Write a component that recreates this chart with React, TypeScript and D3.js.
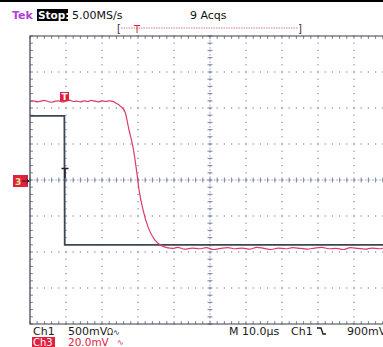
import React from "react";
import * as d3 from "d3";

// time in microseconds (10 µs / div), amplitude in divisions
const ch1Time = [0, 9.55, 9.6, 9.65, 100];
const ch1Value = [1.78, 1.78, 0.0, -1.8, -1.8];

const ch3Time = [0, 1, 2, 3, 4, 5, 6, 7, 8, 9, 10, 11, 12, 13, 14, 15, 16, 17, 18, 19, 20, 21, 22, 22.8, 23.8, 25.0, 26.4, 27.5, 28.6, 29.7, 30.3, 31.4, 32.8, 34.7, 36.7, 38, 39.7, 41, 43, 45, 47, 49, 51, 53, 55, 57, 59, 61, 63, 65, 67, 69, 71, 73, 75, 77, 79, 81, 83, 85, 87, 89, 91, 93, 95, 97, 99, 100];
const ch3Value = [2.18, 2.2, 2.17, 2.19, 2.21, 2.18, 2.16, 2.19, 2.2, 2.17, 2.19, 2.22, 2.18, 2.19, 2.17, 2.2, 2.18, 2.21, 2.19, 2.17, 2.2, 2.18, 2.2, 2.19, 2.14, 2.06, 1.89, 1.39, 0.92, 0.19, -0.28, -0.83, -1.31, -1.67, -1.83, -1.88, -1.9, -1.87, -1.92, -1.89, -1.91, -1.88, -1.93, -1.9, -1.88, -1.91, -1.89, -1.92, -1.87, -1.9, -1.93, -1.89, -1.91, -1.88, -1.9, -1.92, -1.89, -1.87, -1.91, -1.9, -1.93, -1.88, -1.9, -1.92, -1.89, -1.91, -1.88, -1.9];

const headerTexts = ["Tek", "Stop:", "5.00MS/s", "9 Acqs"];
const footerRow1 = ["Ch1", "500mV", "M 10.0µs", "Ch1", "900mV"];
const footerRow2 = ["Ch3", "20.0mV"];

const X0 = 30, X1 = 390, Y0 = 36, Y1 = 324;

export default function App() {
  const x = d3.scaleLinear().domain([0, 100]).range([X0, X1]);
  const y = d3.scaleLinear().domain([-4, 4]).range([Y1, Y0]);
  const majorX = d3.range(0, 101, 10);
  const majorY = d3.range(-4, 5, 1);
  const minorX = d3.range(0, 100.01, 2);
  const minorY = d3.range(-4, 4.01, 0.2);
  const gridCol = "#7c86a8";

  const ch1Path = d3
    .line<number>()
    .x((_, i) => x(ch1Time[i]))
    .y((d) => y(d))(ch1Value) as string;
  const ch3Path = d3
    .line<number>()
    .x((_, i) => x(ch3Time[i]))
    .y((d) => y(d))
    .curve(d3.curveMonotoneX)(ch3Value) as string;

  const font = "'DejaVu Sans', sans-serif";

  return (
    <div style={{ position: "fixed", left: 0, top: 0 }}>
      <svg width={383} height={347} style={{ display: "block", background: "#fff" }}>
        <rect x={0} y={0} width={383} height={2} fill="#000" />
        {/* dotted grid */}
        {majorX.slice(1, -1).map((t) =>
          minorY.map((v, j) => (
            <rect key={`gx${t}-${j}`} x={x(t) - 0.6} y={y(v) - 0.6} width={1.2} height={1.2} fill={gridCol} />
          ))
        )}
        {majorY.slice(1, -1).map((v) =>
          minorX.map((t, j) => (
            <rect key={`gy${v}-${j}`} x={x(t) - 0.6} y={y(v) - 0.6} width={1.2} height={1.2} fill={gridCol} />
          ))
        )}
        {/* center cross ticks */}
        {minorX.map((t, j) => (
          <line key={`cx${j}`} x1={x(t)} x2={x(t)} y1={y(0) - 2.5} y2={y(0) + 2.5} stroke={gridCol} strokeWidth={1} />
        ))}
        {minorY.map((v, j) => (
          <line key={`cy${j}`} x1={x(50) - 2.5} x2={x(50) + 2.5} y1={y(v)} y2={y(v)} stroke={gridCol} strokeWidth={1} />
        ))}
        <line x1={X0} x2={X1} y1={y(0)} y2={y(0)} stroke={gridCol} strokeWidth={0.7} strokeDasharray="2,1.6" />
        <line x1={x(50)} x2={x(50)} y1={Y0} y2={Y1} stroke={gridCol} strokeWidth={0.7} strokeDasharray="2,1.6" />
        {/* edge ticks */}
        {minorX.map((t, j) => (
          <g key={`ex${j}`}>
            <line x1={x(t)} x2={x(t)} y1={Y0} y2={Y0 + 3} stroke={gridCol} />
            <line x1={x(t)} x2={x(t)} y1={Y1} y2={Y1 - 3} stroke={gridCol} />
          </g>
        ))}
        {minorY.map((v, j) => (
          <line key={`ey${j}`} x1={X0} x2={X0 + 3} y1={y(v)} y2={y(v)} stroke={gridCol} />
        ))}
        {/* frame */}
        <path d={`M${X1},${Y0}H${X0}V${Y1}H${X1}`} fill="none" stroke="#3a3f4a" strokeWidth={1.2} />

        {/* traces */}
        <path d={ch1Path} fill="none" stroke="#3c4656" strokeWidth={1.8} />
        <path d={ch3Path} fill="none" stroke="#da3d63" strokeWidth={1.2} />

        {/* trigger T on Ch3 */}
        <rect x={60} y={92} width={9} height={9} fill="#e0203e" />
        <text x={64.5} y={100} fill="#fff" fontFamily={font} fontSize={9} fontWeight="bold" textAnchor="middle">T</text>
        {/* trigger point marker */}
        <path d="M61.5,168.5H68.5M65,168.5V178" stroke="#222" strokeWidth={1.5} fill="none" />

        {/* ground marker */}
        <rect x={13} y={175} width={15} height={12} fill="#e0203e" />
        <text x={15} y={185} fill="#e8e890" fontFamily={font} fontSize={9} fontWeight="bold">3</text>
        <path d="M22,181H29M26.5,178.5L29,181L26.5,183.5" stroke="#222" strokeWidth={1} fill="none" />

        {/* header */}
        <text x={12} y={19} fill="#b040d8" fontFamily={font} fontSize={11} fontWeight="bold">{headerTexts[0]}</text>
        <rect x={37} y={9} width={31} height={12} fill="#000" />
        <text x={38} y={19} fill="#fff" fontFamily={font} fontSize={10.5} fontWeight="bold">{headerTexts[1]}</text>
        <text x={72} y={19} fill="#111" fontFamily={font} fontSize={11}>{headerTexts[2]}</text>
        <text x={190} y={19} fill="#111" fontFamily={font} fontSize={11}>{headerTexts[3]}</text>

        {/* horizontal position bar */}
        <text x={117} y={32} fill="#333" fontFamily={font} fontSize={10}>[</text>
        <text x={298} y={32} fill="#333" fontFamily={font} fontSize={10}>]</text>
        <line x1={121} x2={298} y1={28} y2={28} stroke="#d87a90" strokeWidth={1} strokeDasharray="1.5,1" />
        <text x={137} y={33} fill="#e0203e" fontFamily={font} fontSize={10} textAnchor="middle">T</text>

        {/* footer row 1 */}
        <text x={33} y={334.5} fill="#1a1a1a" fontFamily={font} fontSize={11}>{footerRow1[0]}</text>
        <text x={68} y={334.5} fill="#1a1a1a" fontFamily={font} fontSize={11}>{footerRow1[1]}</text>
        <text x={107} y={334.5} fill="#1a1a1a" fontFamily={font} fontSize={8}>Ω∿</text>
        <text x={229} y={334.5} fill="#1a1a1a" fontFamily={font} fontSize={11}>{footerRow1[2]}</text>
        <text x={291} y={334.5} fill="#1a1a1a" fontFamily={font} fontSize={11}>{footerRow1[3]}</text>
        <path d="M317,328H321L323,334H326" stroke="#1a1a1a" strokeWidth={1.3} fill="none" />
        <text x={347} y={334.5} fill="#1a1a1a" fontFamily={font} fontSize={11}>{footerRow1[4]}</text>

        {/* footer row 2 */}
        <rect x={32} y={337} width={23} height={10} fill="#e0203e" />
        <text x={33} y={345.5} fill="#fff" fontFamily={font} fontSize={10}>{footerRow2[0]}</text>
        <text x={68} y={345.5} fill="#e0203e" fontFamily={font} fontSize={10.5}>{footerRow2[1]}</text>
        <text x={117} y={345} fill="#e0203e" fontFamily={font} fontSize={8}>∿</text>
      </svg>
    </div>
  );
}
